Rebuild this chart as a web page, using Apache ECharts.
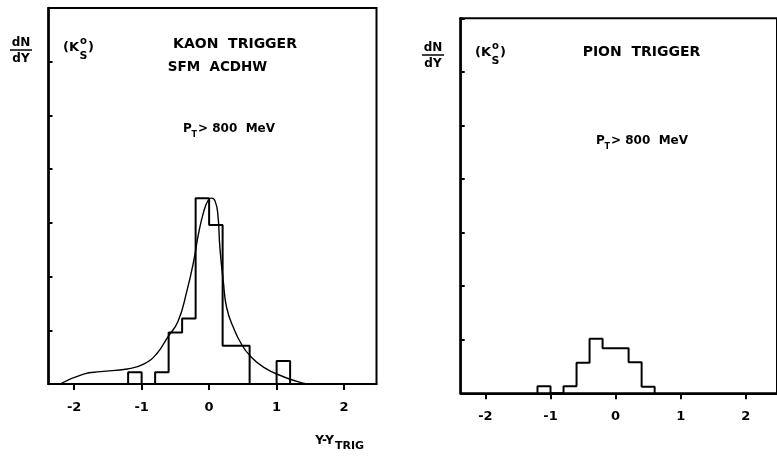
<!DOCTYPE html>
<html>
<head>
<meta charset="utf-8">
<script src="https://cdn.jsdelivr.net/npm/echarts@6/dist/echarts.min.js"></script>
<style>
  html, body { margin: 0; padding: 0; background: #fff; }
  #chart { width: 777px; height: 461px; }
</style>
</head>
<body>
<div id="chart"></div>
<script>
// Rapidity difference axis, tick labels
const xTicks = [-2, -1, 0, 1, 2];

// K0s dN/dY histogram, kaon trigger (bin edges and heights)
const kaonEdges  = [-1.2, -1.0, -0.8, -0.6, -0.4, -0.2, 0.0, 0.2, 0.4, 0.6, 0.8, 1.0, 1.2];
const kaonCounts = [0.22, 0, 0.22, 0.96, 1.22, 3.46, 2.96, 0.71, 0.71, 0, 0, 0.43];

// Fitted curve for the kaon-trigger distribution
const fitX = [-2.21, -1.86, -1.61, -1.21, -0.97, -0.78, -0.62, -0.46, -0.33, -0.23, -0.16, -0.08, -0.01, 0.04, 0.09, 0.13, 0.16, 0.21, 0.26, 0.36, 0.48, 0.61, 0.81, 1.10, 1.30, 1.45];
const fitY = [0, 0.185, 0.23, 0.28, 0.37, 0.56, 0.86, 1.17, 1.73, 2.28, 2.78, 3.21, 3.43, 3.46, 3.40, 3.15, 2.53, 1.91, 1.42, 1.05, 0.74, 0.52, 0.31, 0.135, 0.05, 0];

// K0s dN/dY histogram, pion trigger
const pionEdges  = [-1.2, -1.0, -0.8, -0.6, -0.4, -0.2, 0.0, 0.2, 0.4, 0.6];
const pionCounts = [0.13, 0, 0.13, 0.57, 1.02, 0.84, 0.84, 0.58, 0.12];

// Outline of a histogram as a polyline through its bin corners
function stepOutline(edges, counts) {
  const pts = [[edges[0], 0]];
  counts.forEach((c, i) => {
    pts.push([edges[i], c], [edges[i + 1], c]);
  });
  pts.push([edges[edges.length - 1], 0]);
  return pts;
}

const INK = '#000';
const FONT = '"DejaVu Sans", sans-serif';

function xAxisFor(gridIndex) {
  return {
    gridIndex, type: 'value', min: -2.38, max: 2.48,
    axisLine: { show: true, onZero: false, lineStyle: { color: INK, width: 2 } },
    axisTick: { show: true, customValues: xTicks, length: 6, lineStyle: { color: INK, width: 2 } },
    axisLabel: {
      show: true, customValues: xTicks, margin: 17,
      color: INK, fontFamily: FONT, fontWeight: 'bold', fontSize: 13,
      formatter: v => String(v)
    },
    splitLine: { show: false }
  };
}
function yAxisFor(gridIndex) {
  return {
    gridIndex, type: 'value', min: 0, max: 7, interval: 1,
    axisLine: { show: true, onZero: false, lineStyle: { color: INK, width: 2.5 } },
    axisTick: { show: true, inside: true, length: 4, lineStyle: { color: INK, width: 2 } },
    axisLabel: { show: false },
    splitLine: { show: false }
  };
}

function txt(text, x, y, size, align, extra) {
  return Object.assign({
    type: 'text', silent: true,
    style: {
      text, x, y, fill: INK,
      font: 'bold ' + size + 'px ' + FONT,
      textAlign: align || 'left', textVerticalAlign: 'middle'
    }
  }, extra || {});
}
function rule(x1, x2, y) {
  return { type: 'line', silent: true, shape: { x1, y1: y, x2, y2: y }, style: { stroke: INK, lineWidth: 1.5 } };
}

// Axis-title and annotation blocks, one per panel (dx, dy shift the block)
function panelLabels(dx, dy) {
  return [
    txt('dN', 21 + dx, 42.5 + dy, 12, 'center'),
    rule(10 + dx, 32 + dx, 50 + dy),
    txt('dY', 21 + dx, 59 + dy, 12, 'center'),
    txt('(K', 79 + dx, 48 + dy, 13, 'right'),
    txt('o', 83.5 + dx, 41 + dy, 10, 'center'),
    txt('S', 83.5 + dx, 56 + dy, 11, 'center'),
    txt(')', 88 + dx, 48 + dy, 13, 'left')
  ];
}
function ptLabel(x, y) {
  return [
    txt('P', x, y, 12, 'left'),
    txt('T', x + 8.5, y + 6, 8, 'left'),
    txt('> 800  MeV', x + 15, y, 12, 'left')
  ];
}

const chart = echarts.init(document.getElementById('chart'), null, { renderer: 'canvas' });

chart.setOption({
  backgroundColor: '#fff',
  animation: false,
  grid: [
    { left: 48.5, top: 8, width: 328, height: 376, show: true, borderColor: INK, borderWidth: 2 },
    { left: 460.7, top: 18.3, width: 326, height: 375, show: true, borderColor: INK, borderWidth: 2 }
  ],
  xAxis: [xAxisFor(0), xAxisFor(1)],
  yAxis: [yAxisFor(0), yAxisFor(1)],
  series: [
    {
      name: 'KAON TRIGGER', type: 'line', xAxisIndex: 0, yAxisIndex: 0,
      data: stepOutline(kaonEdges, kaonCounts),
      symbol: 'none', lineStyle: { color: INK, width: 2 }, silent: true
    },
    {
      name: 'fit', type: 'line', xAxisIndex: 0, yAxisIndex: 0,
      data: fitX.map((x, i) => [x, fitY[i]]),
      smooth: 0.5,
      symbol: 'none', lineStyle: { color: INK, width: 1.4 }, silent: true
    },
    {
      name: 'PION TRIGGER', type: 'line', xAxisIndex: 1, yAxisIndex: 1,
      data: stepOutline(pionEdges, pionCounts),
      symbol: 'none', lineStyle: { color: INK, width: 2 }, silent: true
    }
  ],
  graphic: [].concat(
    panelLabels(0, 0),
    [
      txt('KAON  TRIGGER', 235, 44, 14, 'center'),
      txt('SFM  ACDHW', 217.5, 67.5, 13.5, 'center')
    ],
    ptLabel(183, 129),
    [
      txt('Y-Y', 334, 441, 12, 'right'),
      txt('TRIG', 335, 446, 11, 'left')
    ],
    panelLabels(412, 5),
    [ txt('PION  TRIGGER', 641.5, 52.5, 14, 'center') ],
    ptLabel(596, 141)
  )
});
</script>
</body>
</html>
